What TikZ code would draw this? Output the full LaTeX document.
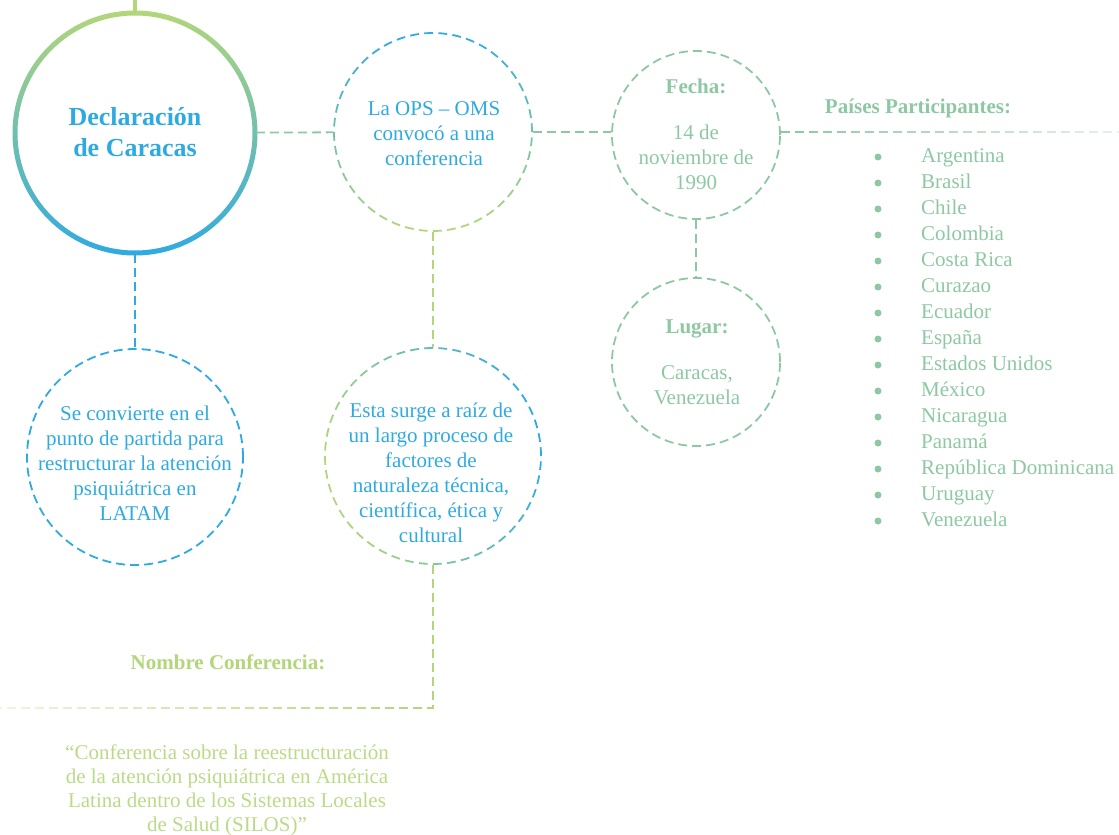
\documentclass[tikz,border=0pt]{standalone}
\usepackage{fontspec}
\setmainfont{Liberation Serif}
\usetikzlibrary{calc, fadings}

\definecolor{cblue}{HTML}{2FAAE1}
\definecolor{lgreen}{HTML}{B3D67A}
\definecolor{sgreen}{HTML}{8DC8A3}
\tikzfading[name=fade_right, left color=transparent!100, right color=transparent!22]
\tikzfading[name=fade_left, left color=transparent!22, right color=transparent!100]

\begin{document}
\begin{tikzpicture}[x=1pt, y=-1pt]
% Styles
\tikzstyle{bubble} = [circle, inner sep=0pt, line width=1.8pt]
\tikzstyle{dashline} = [line width=1.8pt, dash pattern=on 9pt off 5pt]
\tikzstyle{ringdash} = [line width=1.8pt]
\tikzstyle{txt} = [align=center, inner sep=0pt, font=\fontsize{21}{25}\selectfont]
\tikzstyle{head} = [txt, font=\fontsize{21}{25}\selectfont\bfseries]
\tikzstyle{bullet} = [circle, fill=sgreen, inner sep=0pt, minimum size=7pt]

\useasboundingbox (0,0) rectangle (1119,835);

% Circles
\node (declaracion) [bubble, minimum size=240pt] at (135,133) {};
\node (ops_oms) [bubble, minimum size=198pt] at (433,132) {};
\node (fecha) [bubble, minimum size=168pt, draw=sgreen, dash pattern=on 9pt off 5pt] at (696,135) {};
\node (lugar) [bubble, minimum size=168pt, draw=sgreen, dash pattern=on 9pt off 5pt] at (696,362) {};
\node (latam) [bubble, minimum size=216pt, draw=cblue, dash pattern=on 9pt off 5pt] at (135,457) {};
\node (raiz) [bubble, minimum size=216pt] at (433,456) {};

% Rings with colour gradients
\shade[top color=lgreen, bottom color=cblue, middle color=lgreen!50!cblue, even odd rule]
  (declaracion.center) circle[radius=122.5pt] circle[radius=117.5pt];
\foreach \ring/\rad/\dir/\num in {ops_oms/99/90/44, raiz/108/15/48} {
  \foreach \k in {1,...,\num} {
    \pgfmathsetmacro\ang{360/\num*(\k-1)}
    \pgfmathtruncatemacro\mix{50+50*cos(\ang-\dir)}
    \draw[ringdash, draw=cblue!\mix!lgreen] ($(\ring.center)+(\ang:\rad pt)$)
      arc[start angle=\ang, delta angle=360/\num*0.62, radius=\rad pt];
  }
}

% Texts
\node (declaracion_txt) [txt, font=\fontsize{26}{31}\selectfont\bfseries, text=cblue] at (135,132) {Declaración\\de Caracas};
\node (ops_txt) [txt, text=cblue] at (434,134) {La OPS – OMS\\convocó a una\\conferencia};
\node (fecha_txt) [txt, text=sgreen] at (696,134) {\textbf{Fecha:}\\[21pt]14 de\\noviembre de\\1990};
\node (lugar_txt) [txt, text=sgreen] at (697,362) {\textbf{Lugar:}\\[21pt]Caracas,\\Venezuela};
\node (latam_txt) [txt, text=cblue] at (135,463) {Se convierte en el\\punto de partida para\\restructurar la atención\\psiquiátrica en\\LATAM};
\node (raiz_txt) [txt, text=cblue] at (431,473) {Esta surge a raíz de\\un largo proceso de\\factores de\\naturaleza técnica,\\científica, ética y\\cultural};
\node (paises) [head, text=sgreen] at (918,108) {Países Participantes:};
\node (nombre) [head, text=lgreen] at (228,662) {Nombre Conferencia:};
\node (nombre_txt) [txt, font=\fontsize{21}{24}\selectfont, text=lgreen!90!white] at (227,790)
  {“Conferencia sobre la reestructuración\\de la atención psiquiátrica en América\\Latina dentro de los Sistemas Locales\\de Salud (SILOS)”};

% Country list
\foreach \pais [count=\i] in {Argentina, Brasil, Chile, Colombia, Costa Rica, Curazao, Ecuador, España, Estados Unidos, México, Nicaragua, Panamá, República Dominicana, Uruguay, Venezuela} {
  \node (dot\i) [bullet] at (878,131+26*\i) {};
  \node (pais\i) [txt, text=sgreen, anchor=base west] at (921,136+26*\i) {\pais};
}

% Connectors
\coordinate (top_end) at (135,0);
\coordinate (paises_end) at (1119,132);
\coordinate (nombre_end) at (0,708);
\draw[line width=3.5pt, lgreen] (declaracion.north) -- (top_end);
\draw[dashline, sgreen] (declaracion) -- (ops_oms);
\draw[dashline, sgreen] (ops_oms) -- (ops_oms -| fecha.west);
\draw[dashline, sgreen] (fecha) -- (lugar);
\draw[dashline, cblue] (declaracion) -- (latam);
\draw[dashline, lgreen] (ops_oms) -- (raiz);
\draw[dashline, sgreen] (fecha.east |- paises_end) -- (paises_end);
\draw[dashline, lgreen] (raiz.south) |- (nombre_end);
\fill[white, path fading=fade_right] (790,124) rectangle (1119,140);
\fill[white, path fading=fade_left] (0,700) rectangle (424,716);

\end{tikzpicture}
\end{document}
